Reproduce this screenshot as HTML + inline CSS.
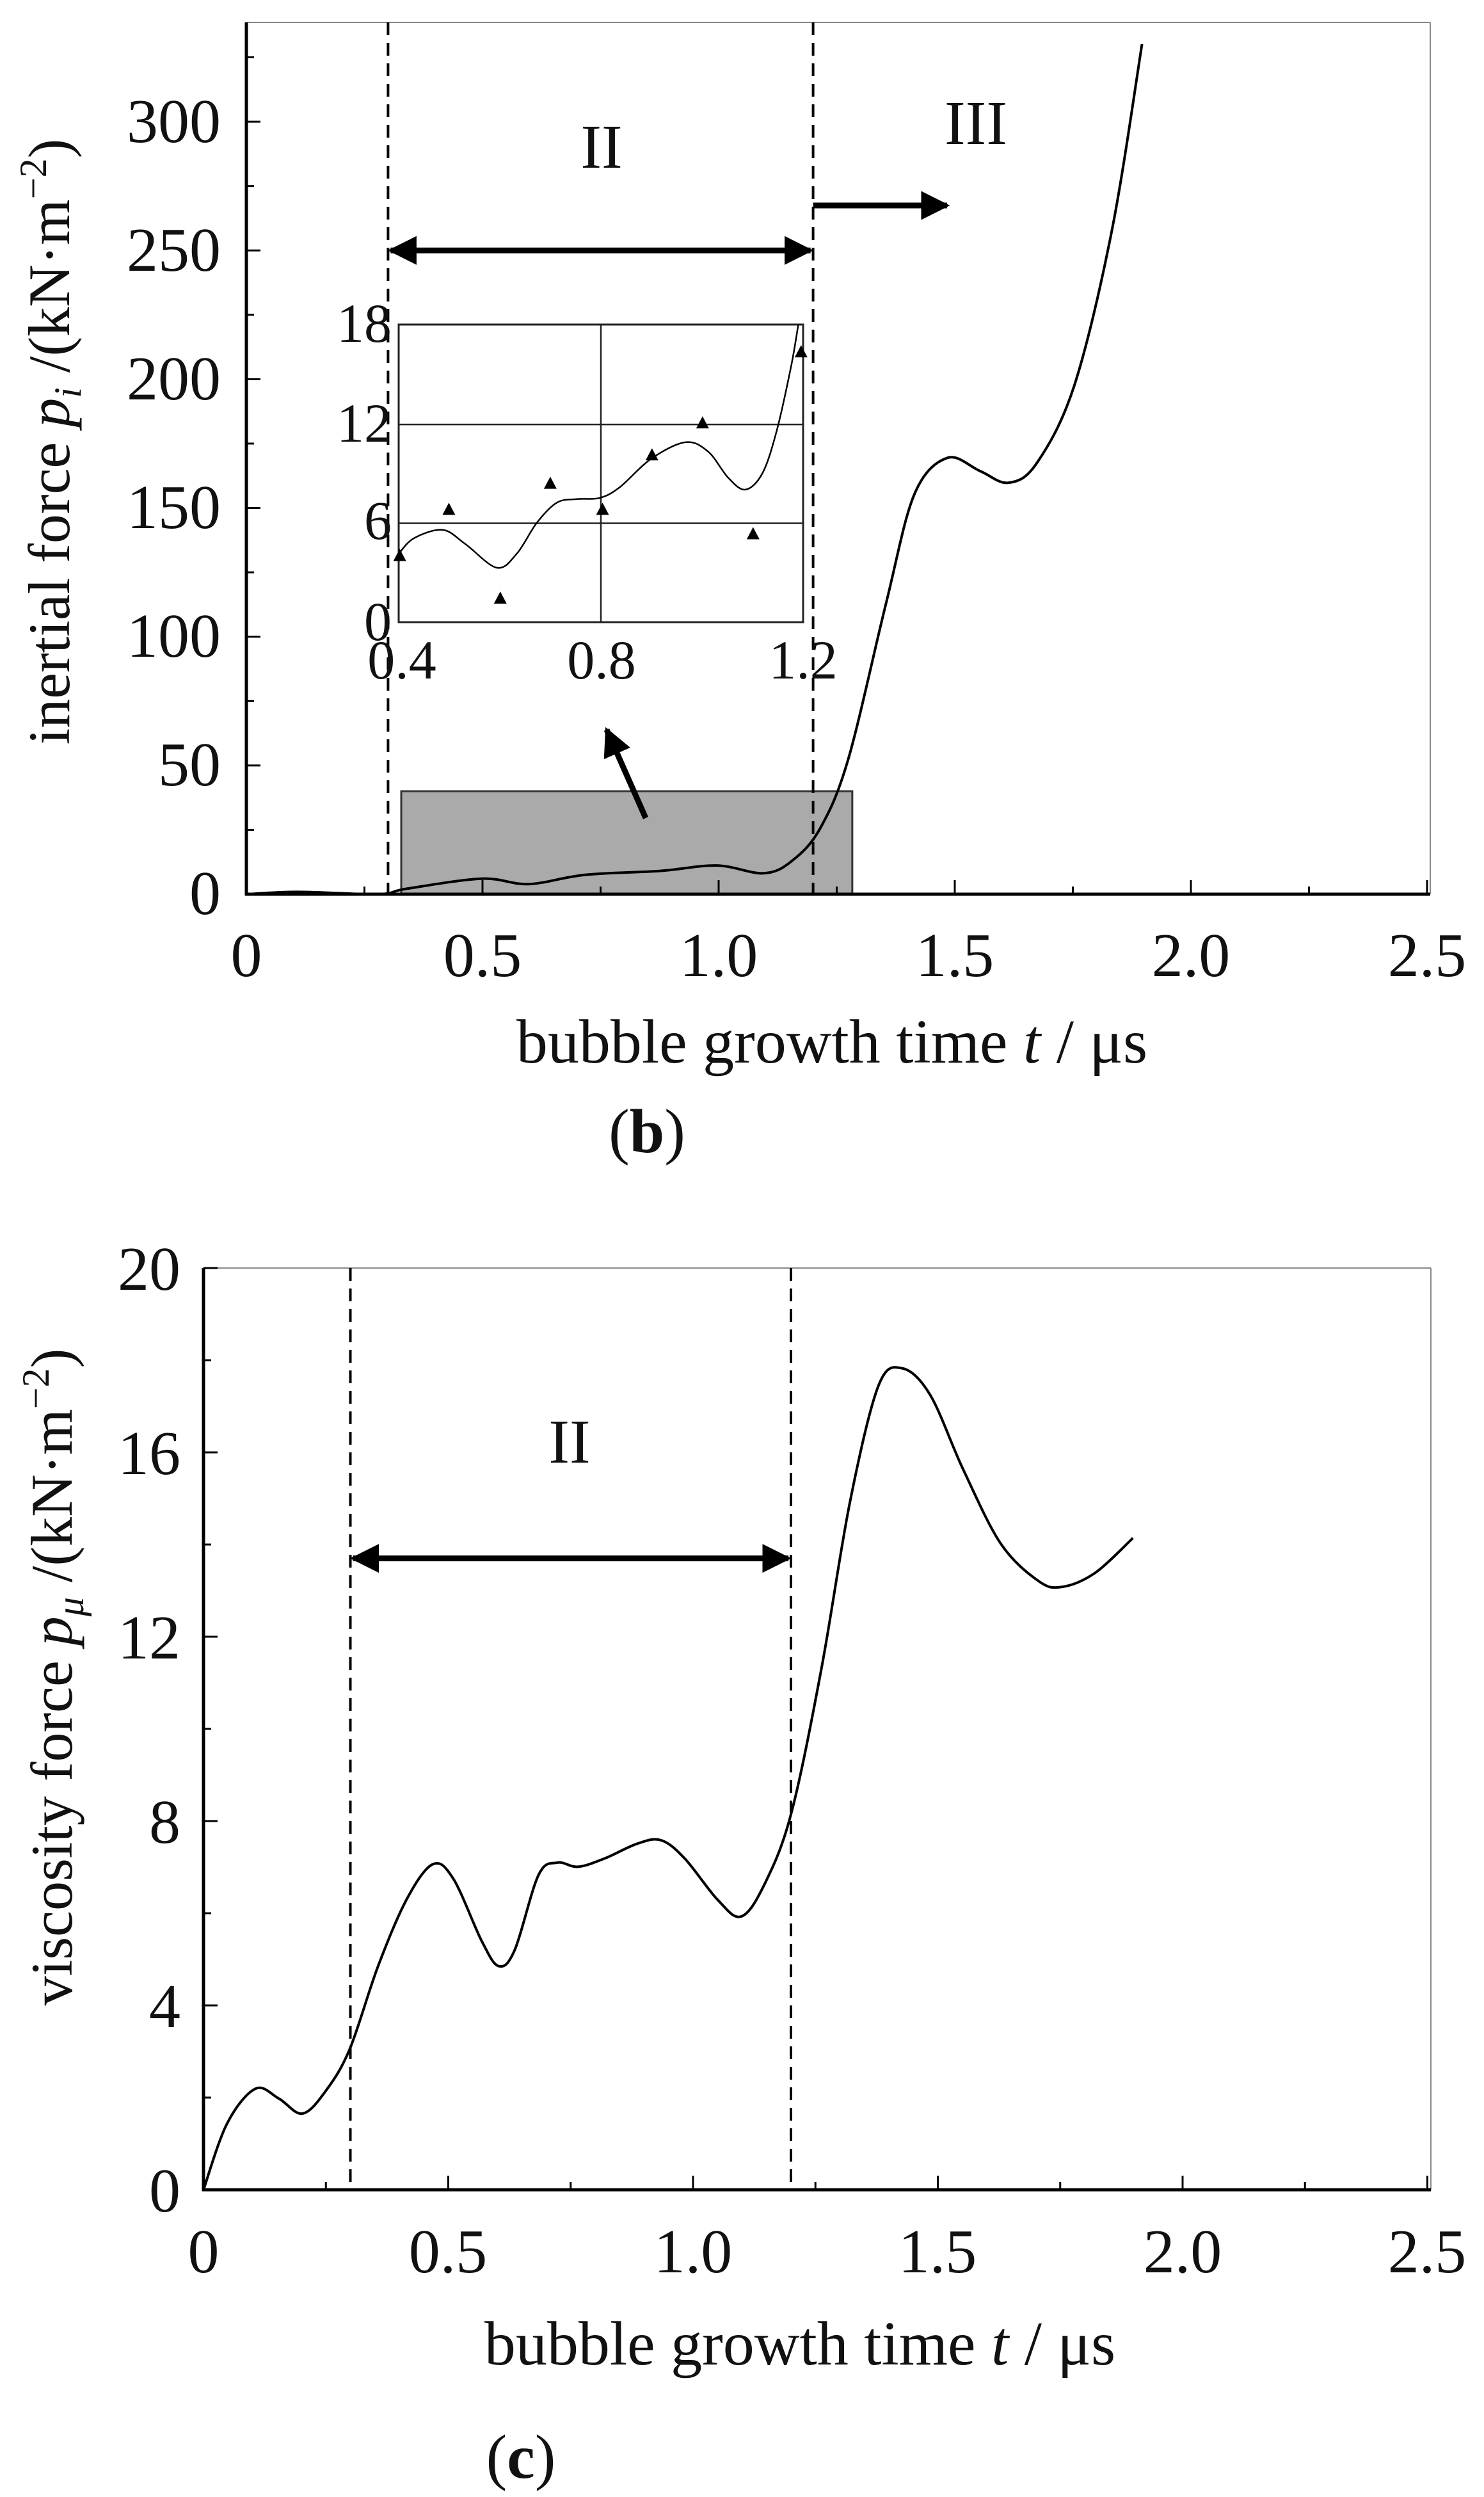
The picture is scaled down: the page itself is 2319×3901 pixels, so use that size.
<!DOCTYPE html>
<html><head><meta charset="utf-8"><style>
html,body{margin:0;padding:0;background:#fff;}
svg{display:block;}
text{font-family:"Liberation Serif",serif;fill:#111;}
</style></head><body>
<svg id="s" width="2319" height="3901" viewBox="0 0 2319 3901" xmlns="http://www.w3.org/2000/svg">
<defs>
<marker id="ah" viewBox="0 0 10 10" refX="9" refY="5" markerWidth="5" markerHeight="5" orient="auto-start-reverse"><path d="M0,0 L10,5 L0,10 z" fill="#000"/></marker>
</defs>
<g id="g"></g>
<!-- Plot b text -->
<g font-size="98" text-anchor="end">
<text x="345" y="1428">0</text>
<text x="345" y="1227">50</text>
<text x="345" y="1026">100</text>
<text x="345" y="825">150</text>
<text x="345" y="624">200</text>
<text x="345" y="423">250</text>
<text x="345" y="222">300</text>
</g>
<g font-size="98" text-anchor="middle">
<text x="385" y="1525">0</text>
<text x="754" y="1525">0.5</text>
<text x="1123" y="1525">1.0</text>
<text x="1492" y="1525">1.5</text>
<text x="1861" y="1525">2.0</text>
<text x="2230" y="1525">2.5</text>
<text x="1300" y="1660">bubble growth time <tspan font-style="italic">t</tspan> / μs</text>
<text x="1011" y="1800">(<tspan font-weight="bold">b</tspan>)</text>
<text x="940" y="262">II</text>
<text x="1525" y="225">III</text>
</g>
<text transform="translate(108,690) rotate(-90)" font-size="92" text-anchor="middle">inertial force <tspan font-style="italic">p</tspan><tspan font-style="italic" font-size="60" dy="18">i</tspan><tspan dy="-18"> /(kN·m</tspan><tspan font-size="60" dy="-36">−2</tspan><tspan dy="36">)</tspan></text>
<!-- inset labels -->
<g font-size="86" text-anchor="end">
<text x="612" y="534">18</text>
<text x="612" y="690">12</text>
<text x="612" y="842">6</text>
<text x="612" y="1000">0</text>
</g>
<g font-size="86" text-anchor="middle">
<text x="628" y="1060">0.4</text>
<text x="940" y="1060">0.8</text>
<text x="1255" y="1060">1.2</text>
</g>
<!-- Plot c text -->
<g font-size="98" text-anchor="end">
<text x="282" y="3455">0</text>
<text x="282" y="3167">4</text>
<text x="282" y="2879">8</text>
<text x="282" y="2591">12</text>
<text x="282" y="2303">16</text>
<text x="282" y="2015">20</text>
</g>
<g font-size="98" text-anchor="middle">
<text x="318" y="3550">0</text>
<text x="700" y="3550">0.5</text>
<text x="1083" y="3550">1.0</text>
<text x="1465" y="3550">1.5</text>
<text x="1848" y="3550">2.0</text>
<text x="2230" y="3550">2.5</text>
<text x="1250" y="3694">bubble growth time <tspan font-style="italic">t</tspan> / μs</text>
<text x="814" y="3871">(<tspan font-weight="bold">c</tspan>)</text>
<text x="890" y="2285">II</text>
</g>
<text transform="translate(112,2620) rotate(-90)" font-size="92" text-anchor="middle">viscosity force <tspan font-style="italic">p</tspan><tspan font-style="italic" font-size="60" dy="18">μ</tspan><tspan dy="-18"> /(kN·m</tspan><tspan font-size="60" dy="-36">−2</tspan><tspan dy="36">)</tspan></text>
</svg>
<script>
(function(){
var NS="http://www.w3.org/2000/svg",g=document.getElementById("g");
function el(n,a){var e=document.createElementNS(NS,n);for(var k in a)e.setAttribute(k,a[k]);g.appendChild(e);return e;}
function cr(p){var d="M"+p[0][0].toFixed(1)+","+p[0][1].toFixed(1);
for(var i=0;i<p.length-1;i++){var p0=p[i-1]||p[i],p1=p[i],p2=p[i+1],p3=p[i+2]||p2;
d+=" C"+(p1[0]+(p2[0]-p0[0])/6).toFixed(1)+","+(p1[1]+(p2[1]-p0[1])/6).toFixed(1)+" "+(p2[0]-(p3[0]-p1[0])/6).toFixed(1)+","+(p2[1]-(p3[1]-p1[1])/6).toFixed(1)+" "+p2[0].toFixed(1)+","+p2[1].toFixed(1);}
return d;}
// Plot b
var L=385,R=2235,T=35,B=1397;
function Xb(t){return L+738*t;} function Yb(v){return B-4.023*v;}
el("rect",{x:627,y:Yb(40),width:Xb(1.283)-627,height:B-Yb(40),fill:"#aaa",stroke:"#333","stroke-width":3});
el("line",{x1:L,y1:T,x2:R,y2:T,stroke:"#888","stroke-width":2});
el("line",{x1:R,y1:T,x2:R,y2:B,stroke:"#888","stroke-width":2});
el("line",{x1:L,y1:T,x2:L,y2:B+2,stroke:"#000","stroke-width":5});
el("line",{x1:L-2,y1:B,x2:R,y2:B,stroke:"#000","stroke-width":5});
for(var i=0;i<=10;i++){var x=Xb(i*0.25);el("line",{x1:x,y1:B,x2:x,y2:B-(i%2?12:22),stroke:"#000","stroke-width":3});}
for(var i=0;i<=13;i++){var y=Yb(i*25);el("line",{x1:L,y1:y,x2:L+(i%2?12:22),y2:y,stroke:"#000","stroke-width":3});}
var zb=[[260,1155],[315,1152],[400,1155],[430,1148],[510,1135],[560,1142],[620,1130],[700,1125],[760,1118],[810,1128],[840,1112],[870,1070],[900,980],[940,780],[970,640],[1005,593],[1040,610],[1070,625],[1100,600],[1140,500],[1180,300],[1212,60]];
var pb=zb.map(function(q){return [Xb((q[0]-260)/502),Yb((1155-q[1])/3.317)];});
el("path",{d:cr(pb),fill:"none",stroke:"#000","stroke-width":4});
[0.3,1.2].forEach(function(t){el("line",{x1:Xb(t),y1:T,x2:Xb(t),y2:B,stroke:"#000","stroke-width":4,"stroke-dasharray":"20,12"});});
el("line",{x1:Xb(0.3)+4,y1:Yb(250),x2:Xb(1.2)-4,y2:Yb(250),stroke:"#000","stroke-width":9,"marker-start":"url(#ah)","marker-end":"url(#ah)"});
el("line",{x1:Xb(1.2),y1:321,x2:1480,y2:321,stroke:"#000","stroke-width":9,"marker-end":"url(#ah)"});
el("line",{x1:1009,y1:1278,x2:948,y2:1140,stroke:"#000","stroke-width":9,"marker-end":"url(#ah)"});
// inset
var iL=623,iR=1255,iT=507,iB=972;
function xi(z){return 580+0.4464*z;} function yi(z){return 480+0.37*z;}
el("rect",{x:iL,y:iT,width:iR-iL,height:iB-iT,fill:"#fff",stroke:"#222","stroke-width":3});
el("line",{x1:(iL+iR)/2,y1:iT,x2:(iL+iR)/2,y2:iB,stroke:"#222","stroke-width":2.5});
[yi(495),yi(912)].forEach(function(y){el("line",{x1:iL,y1:y,x2:iR,y2:y,stroke:"#222","stroke-width":2.5});});
var zi=[[97,1040],[150,975],[250,940],[330,1000],[440,1100],[510,1040],[580,910],[650,825],[720,810],[800,805],[870,760],[980,640],[1100,570],[1180,610],[1250,720],[1310,770],[1370,700],[1420,520],[1470,250],[1495,75]];
el("path",{d:cr(zi.map(function(q){return [xi(q[0]),yi(q[1])];})),fill:"none",stroke:"#000","stroke-width":2.5});
[[272,855],[452,1230],[627,745],[810,855],[983,625],[1160,490],[1337,958],[1505,190],[100,1050]].forEach(function(q){var x=xi(q[0]),y=yi(q[1]);
el("path",{d:"M"+x+","+(y-11)+" L"+(x+10)+","+(y+8)+" L"+(x-10)+","+(y+8)+"z",fill:"#000"});});
// Plot c
var L2=318,R2=2236,T2=1981,B2=3421;
function Xc(t){return L2+765*t;} function Yc(v){return B2-72*v;}
el("line",{x1:L2,y1:T2,x2:R2,y2:T2,stroke:"#888","stroke-width":2});
el("line",{x1:R2,y1:T2,x2:R2,y2:B2,stroke:"#888","stroke-width":2});
el("line",{x1:L2,y1:T2,x2:L2,y2:B2+2,stroke:"#000","stroke-width":5});
el("line",{x1:L2-2,y1:B2,x2:R2,y2:B2,stroke:"#000","stroke-width":5});
for(var i=0;i<=10;i++){var x=Xc(i*0.25);el("line",{x1:x,y1:B2,x2:x,y2:B2-(i%2?12:22),stroke:"#000","stroke-width":3});}
for(var i=0;i<=10;i++){var y=Yc(i*2);el("line",{x1:L2,y1:y,x2:L2+(i%2?12:22),y2:y,stroke:"#000","stroke-width":3});}
var zc=[[215,1190],[240,1110],[270,1068],[295,1080],[320,1098],[345,1070],[370,1020],[400,920],[430,840],[458,797],[480,815],[510,890],[528,920],[545,900],[570,810],[590,795],[612,800],[640,790],[675,772],[700,768],[725,790],[760,840],[785,860],[810,820],[838,735],[870,560],[900,360],[930,220],[955,198],[985,230],[1020,320],[1060,410],[1100,455],[1125,462],[1160,445],[1200,403]];
el("path",{d:cr(zc.map(function(q){return [Xc((q[0]-215)/518.8),Yc((1190-q[1])/55.65)];})),fill:"none",stroke:"#000","stroke-width":4});
[0.3,1.2].forEach(function(t){el("line",{x1:Xc(t),y1:T2,x2:Xc(t),y2:B2,stroke:"#000","stroke-width":4,"stroke-dasharray":"20,12"});});
el("line",{x1:Xc(0.3)+4,y1:Yc(13.7),x2:Xc(1.2)-4,y2:Yc(13.7),stroke:"#000","stroke-width":9,"marker-start":"url(#ah)","marker-end":"url(#ah)"});
})();
</script>
</body></html>
